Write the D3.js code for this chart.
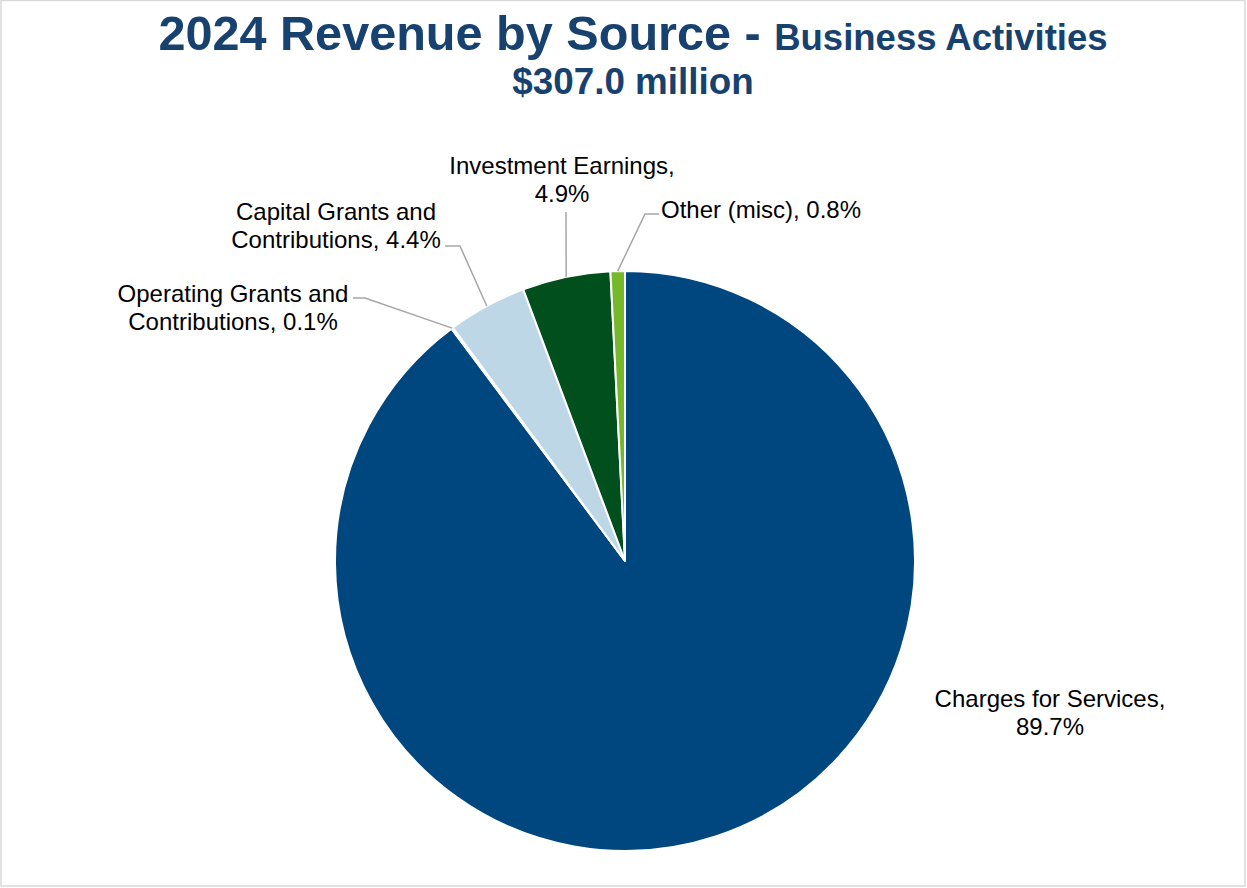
<!DOCTYPE html>
<html>
<head>
<meta charset="utf-8">
<script src="https://cdn.jsdelivr.net/npm/d3@7"></script>
<style>
    body { margin: 0; background: #fff; }
    text { font-family: 'Liberation Sans', Arial, sans-serif; }
</style>
</head>
<body>
<div id="chart-area"></div>
<script>
// DATA
// =================
var categories = ['Charges for Services', 'Operating Grants and Contributions', 'Capital Grants and Contributions', 'Investment Earnings', 'Other (misc)'];
var shares = [89.7, 0.1, 4.4, 4.9, 0.8];
var colors = ['#00467f', '#bdd7e7', '#bdd7e7', '#004f1d', '#77b82a'];
// label text lines, as laid out in the original
var labelLines = [
    ['Charges for Services,', '89.7%'],
    ['Operating Grants and', 'Contributions, 0.1%'],
    ['Capital Grants and', 'Contributions, 4.4%'],
    ['Investment Earnings,', '4.9%'],
    ['Other (misc), 0.8%']
];

// CANVAS
// =================
var width = 1247, height = 888;
var cx = 625, cy = 561, radius = 290;

var svg = d3.select('#chart-area')
    .append('svg')
        .attr('width', width)
        .attr('height', height);

// chart border
svg.append('rect')
    .attr('x', 1)
    .attr('y', 0.5)
    .attr('width', width - 3)
    .attr('height', height - 2.5)
    .attr('fill', '#fff')
    .attr('stroke', '#d9d9d9')
    .attr('stroke-width', 1.5);

// TITLE
// =================
var title = svg.append('text')
    .attr('x', 633)
    .attr('y', 50)
    .attr('text-anchor', 'middle')
    .attr('fill', '#17416f')
    .attr('font-weight', 'bold');
title.append('tspan')
    .attr('font-size', '48.6px')
    .text('2024 Revenue by Source - ');
title.append('tspan')
    .attr('font-size', '36.5px')
    .text('Business Activities');

svg.append('text')
    .attr('x', 633)
    .attr('y', 94)
    .attr('text-anchor', 'middle')
    .attr('fill', '#17416f')
    .attr('font-weight', 'bold')
    .attr('font-size', '36.8px')
    .text('$307.0 million');

// PIE
// =================
var pie = d3.pie()
    .sort(null)
    .value(d => d);

var arcs = pie(shares);

var arc = d3.arc()
    .innerRadius(0)
    .outerRadius(radius);

var edgeArc = d3.arc()
    .innerRadius(radius)
    .outerRadius(radius);

var g = svg.append('g')
    .attr('transform', 'translate(' + cx + ',' + cy + ')');

g.selectAll('path.slice')
    .data(arcs)
    .enter()
    .append('path')
        .attr('class', 'slice')
        .attr('d', arc)
        .attr('fill', (d, i) => colors[i])
        .attr('stroke', '#fff')
        .attr('stroke-width', 2)
        .attr('stroke-linejoin', 'round');

// LABELS
// =================
// anchor = centre of the label block (x) and first baseline (y), relative to pie centre
// elbow = where the leader line leaves the label
var labelLayout = [
    { x: 425, y: 146, anchor: 'middle', elbow: null },
    { x: -392, y: -259, anchor: 'middle', elbow: [[-272, -263], [-260, -263]] },
    { x: -289, y: -341, anchor: 'middle', elbow: [[-180, -315], [-165, -315]] },
    { x: -63, y: -387, anchor: 'middle', elbow: [[-59, -349], [-59, -349]] },
    { x: 36, y: -343, anchor: 'start', elbow: [[34, -347], [20, -347]] }
];

var lineGen = d3.line();

arcs.forEach((d, i) => {
    var lay = labelLayout[i];
    if (lay.elbow) {
        var tip = edgeArc.centroid(d);
        g.append('path')
            .attr('d', lineGen(lay.elbow.concat([tip])))
            .attr('fill', 'none')
            .attr('stroke', '#a6a6a6')
            .attr('stroke-width', 1.5);
    }
    var t = g.append('text')
        .attr('x', lay.x)
        .attr('y', lay.y)
        .attr('text-anchor', lay.anchor)
        .attr('font-size', '24px')
        .attr('fill', '#000');
    labelLines[i].forEach((line, j) => {
        t.append('tspan')
            .attr('x', lay.x)
            .attr('dy', j === 0 ? 0 : 28)
            .text(line);
    });
});
</script>
</body>
</html>
